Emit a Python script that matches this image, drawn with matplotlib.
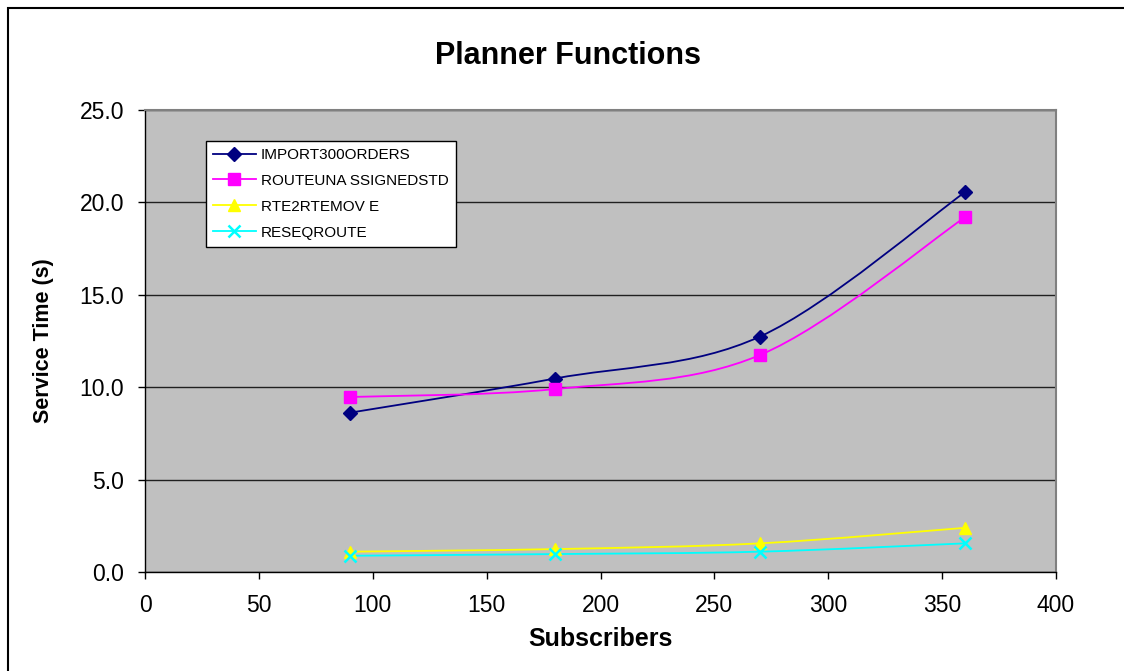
import matplotlib
matplotlib.use("Agg")
import matplotlib.pyplot as plt
from matplotlib.path import Path
from matplotlib.patches import PathPatch, Rectangle
from matplotlib.lines import Line2D

plt.rcParams['font.family'] = ['Liberation Sans', 'DejaVu Sans']

# Service times per planner function
subscribers = [90, 180, 270, 360]
import_orders = [8.62, 10.47, 12.74, 20.55]
route_unassigned = [9.47, 9.90, 11.74, 19.19]
rte2rte_move = [1.10, 1.24, 1.55, 2.39]
reseq_route = [0.88, 0.97, 1.10, 1.55]

series = [
    ("IMPORT300ORDERS", import_orders, "#000080", "D", 7),
    ("ROUTEUNA SSIGNEDSTD", route_unassigned, "#FF00FF", "s", 8),
    ("RTE2RTEMOV E", rte2rte_move, "#FFFF00", "^", 9),
    ("RESEQROUTE", reseq_route, "#00FFFF", "x", 9),
]


def smooth_path(xs, ys):
    """Bezier path through the points, spreadsheet-style smoothing."""
    pts = list(zip(xs, ys))
    verts = [pts[0]]
    codes = [Path.MOVETO]
    n = len(pts)
    for i in range(n - 1):
        p0 = pts[i - 1] if i > 0 else pts[i]
        p1 = pts[i]
        p2 = pts[i + 1]
        p3 = pts[i + 2] if i + 2 < n else pts[i + 1]
        c1 = (p1[0] + (p2[0] - p0[0]) / 6, p1[1] + (p2[1] - p0[1]) / 6)
        c2 = (p2[0] - (p3[0] - p1[0]) / 6, p2[1] - (p3[1] - p1[1]) / 6)
        verts += [c1, c2, p2]
        codes += [Path.CURVE4] * 3
    return Path(verts, codes)


W, H = 1124, 671
fig = plt.figure(figsize=(W / 100, H / 100), dpi=100)
fig.patches.append(Rectangle((7.5 / W, -0.05), 1.2, 1 - 7.5 / H + 0.05,
                             transform=fig.transFigure, fill=False,
                             edgecolor='black', linewidth=1.5))

ax = fig.add_axes([145 / W, 1 - 572 / H, (1056 - 145) / W, (572 - 110) / H])
ax.set_facecolor('#C0C0C0')
ax.set_xlim(0, 400)
ax.set_ylim(0, 25)
ax.set_xticks(range(0, 401, 50))
ax.set_yticks([0, 5, 10, 15, 20, 25])
ax.set_yticklabels([f"{v:.1f}" for v in [0, 5, 10, 15, 20, 25]])
ax.yaxis.grid(True, color='#202020', linewidth=1.0)
ax.set_axisbelow(True)
ax.tick_params(direction='out', length=5, width=1, labelsize=16.5,
               colors='black')
ax.tick_params(axis='y', pad=10)
ax.tick_params(axis='x', pad=11)

for side in ['top', 'right']:
    ax.spines[side].set_color('#808080')
    ax.spines[side].set_linewidth(1.5)
for side in ['left', 'bottom']:
    ax.spines[side].set_color('black')
    ax.spines[side].set_linewidth(1.0)

handles = []
for name, vals, color, marker, ms in series:
    ax.add_patch(PathPatch(smooth_path(subscribers, vals), fill=False,
                           edgecolor=color, linewidth=1.3, zorder=3))
    mew = 1.8 if marker == 'x' else 1
    ax.plot(subscribers, vals, linestyle='none', marker=marker, markersize=ms,
            color=color, markeredgewidth=mew, zorder=4, clip_on=False)
    handles.append(Line2D([], [], color=color, linewidth=1.3, marker=marker,
                          markersize=ms, markeredgewidth=mew))

leg = ax.legend(handles, [s[0] for s in series], loc='upper left',
                bbox_to_anchor=(206 / W, 1 - 141 / H),
                bbox_transform=fig.transFigure, borderaxespad=0,
                fancybox=False, edgecolor='black', framealpha=1,
                fontsize=11, handlelength=2.8, handletextpad=0.35,
                labelspacing=0.78, borderpad=0.45)
leg.get_frame().set_linewidth(1.0)

fig.text(568 / W, 1 - 56 / H, "Planner Functions", ha='center', va='center',
         fontsize=22, fontweight='bold')
fig.text(600 / W, 1 - 639 / H, "Subscribers", ha='center', va='center',
         fontsize=18, fontweight='bold')
fig.text(44 / W, 1 - 341 / H, "Service Time (s)", ha='center', va='center',
         rotation=90, fontsize=15.5, fontweight='bold')

fig.savefig("out.png", dpi=100)
